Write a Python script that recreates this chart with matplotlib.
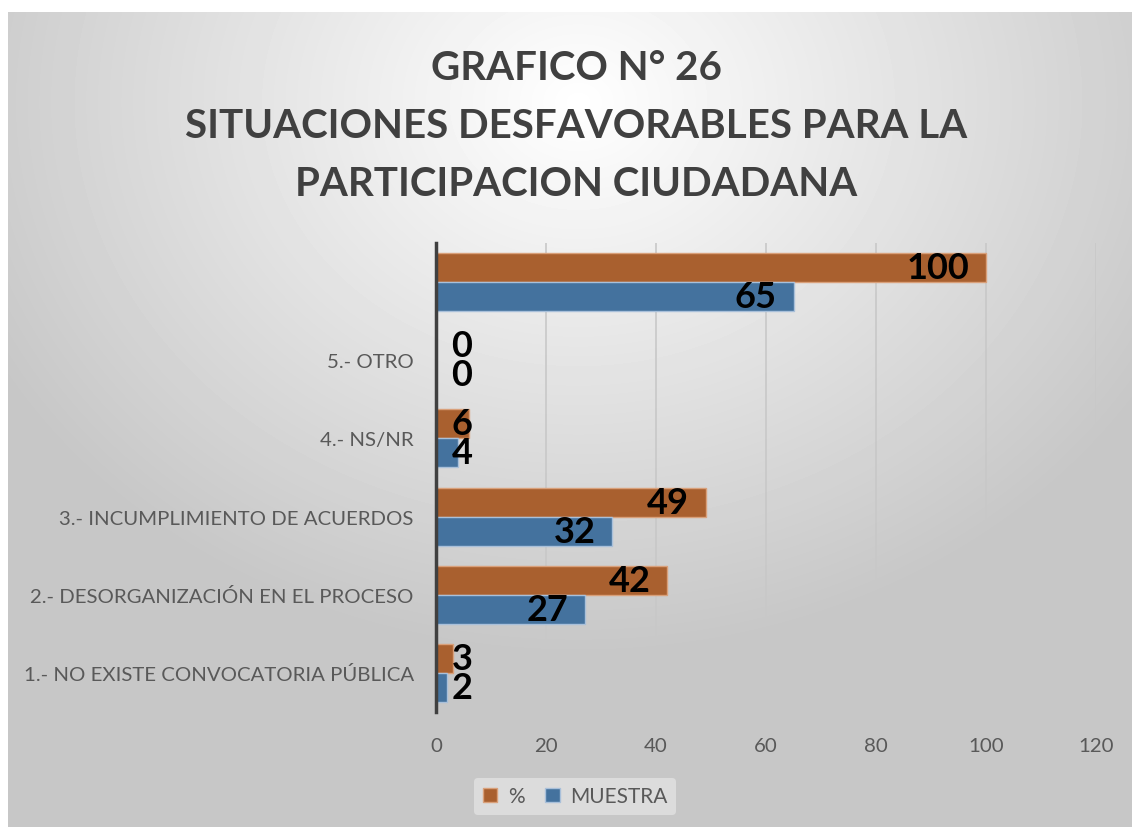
import numpy as np
import matplotlib
matplotlib.use("Agg")
import matplotlib.pyplot as plt

categories = ["1.- NO EXISTE CONVOCATORIA PÚBLICA", "2.- DESORGANIZACIÓN EN EL PROCESO",
              "3.- INCUMPLIMIENTO DE ACUERDOS", "4.- NS/NR", "5.- OTRO", ""]
muestra = [2, 27, 32, 4, 0, 65]
porcentaje = [3, 42, 49, 6, 0, 100]
xticks = [0, 20, 40, 60, 80, 100, 120]

orange = "#A9602F"
blue = "#44729E"

plt.rcParams["font.family"] = ["Lato", "DejaVu Sans"]

fig = plt.figure(figsize=(11.32, 8.28), dpi=100)

# radial grey background
bg = fig.add_axes([8 / 1132, 0, 1 - 8 / 1132, (828 - 13) / 828])
yy, xx = np.mgrid[0:815, 0:1124]
d = np.sqrt(((xx - 570) / 900.0) ** 2 + ((yy - 90) / 750.0) ** 2)
shade = np.clip(1.0 - 0.3 * d, 0.78, 1.0)
bg.imshow(shade, cmap="gray", vmin=0, vmax=1, aspect="auto", extent=[0, 1, 0, 1], origin="upper")
bg.axis("off")

ax = fig.add_axes([436 / 1132, 1 - 713 / 828, (1096 - 436) / 1132, (713 - 244) / 828])
ax.patch.set_alpha(0)

y = np.arange(len(categories))
h = 0.37
ax.barh(y + h / 2, porcentaje, height=h, color=orange, edgecolor="#D9A07A", linewidth=1, label="%", zorder=3)
ax.barh(y - h / 2, muestra, height=h, color=blue, edgecolor="#A9C0DA", linewidth=1, label="MUESTRA", zorder=3)

for yi, v in zip(y + h / 2, porcentaje):
    if v >= 10:
        ax.text(v - 3, yi, str(v), ha="right", va="center", fontsize=26, fontweight="bold", zorder=4)
    else:
        ax.text(2.8, yi, str(v), ha="left", va="center", fontsize=26, fontweight="bold", zorder=4)
for yi, v in zip(y - h / 2, muestra):
    if v >= 10:
        ax.text(v - 3, yi, str(v), ha="right", va="center", fontsize=26, fontweight="bold", zorder=4)
    else:
        ax.text(2.8, yi, str(v), ha="left", va="center", fontsize=26, fontweight="bold", zorder=4)

ax.set_xlim(0, 120)
ax.set_ylim(-0.5, len(categories) - 0.5)
ax.set_xticks(xticks)
ax.set_yticks(y)
ax.set_yticklabels(categories)
ax.tick_params(axis="both", length=0, labelsize=14.7, labelcolor="#595959")
ax.tick_params(axis="x", pad=18)
ax.tick_params(axis="y", pad=16)
ax.grid(axis="x", color="#C8C8C8", linewidth=1.2, zorder=0)
for s in ["top", "right", "bottom"]:
    ax.spines[s].set_visible(False)
ax.spines["left"].set_color("#404040")
ax.spines["left"].set_linewidth(2.5)
ax.spines["left"].set_zorder(5)

fig.text(0.509, 0.847, "GRAFICO N° 26\nSITUACIONES DESFAVORABLES PARA LA\nPARTICIPACION CIUDADANA",
         ha="center", va="center", fontsize=29, fontweight="bold", color="#404040", linespacing=1.7)

leg = fig.legend(loc="center", bbox_to_anchor=(0.508, 0.037), ncol=2, fontsize=15, frameon=True,
                 handlelength=0.7, handleheight=0.7, columnspacing=1.0, handletextpad=0.5)
leg.get_frame().set_facecolor("#E2E2E2")
leg.get_frame().set_edgecolor("none")
leg.get_frame().set_alpha(0.8)
for t in leg.get_texts():
    t.set_color("#595959")

fig.savefig("out.png", dpi=100)
